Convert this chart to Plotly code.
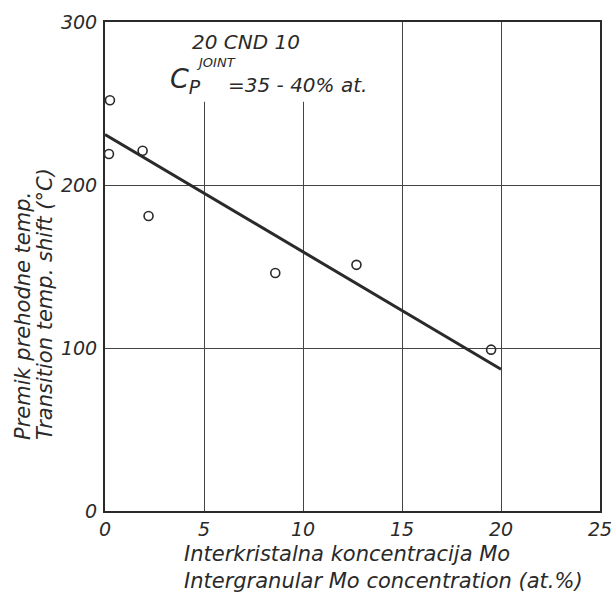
import plotly.graph_objects as go

# Data
mo_conc = [0.25, 0.2, 1.9, 2.2, 8.6, 12.7, 19.5]
temp_shift = [252, 219, 221, 181, 146, 151, 99]
fit_x = [0, 20]
fit_y = [231, 87]
x_ticks = [0, 5, 10, 15, 20, 25]
y_ticks = [0, 100, 200, 300]

FONT = "DejaVu Sans"
INK = "#2a2a2a"
W, H = 611, 596
ML, MR, MT, MB = 105, 11, 22, 85

fig = go.Figure()
fig.add_trace(go.Scatter(
    x=fit_x, y=fit_y, mode="lines",
    line=dict(color=INK, width=3), showlegend=False))
fig.add_trace(go.Scatter(
    x=mo_conc, y=temp_shift, mode="markers",
    marker=dict(symbol="circle-open", size=9, color=INK, line=dict(width=1.6)),
    showlegend=False))

# blank area behind the annotation (gridlines at 5 and 10 stop below it)
fig.add_shape(type="rect", xref="x", yref="y", x0=4, x1=12, y0=251, y1=300,
              fillcolor="white", line=dict(width=0), layer="between")

axis_common = dict(
    showline=True, mirror=True, linecolor=INK, linewidth=2,
    showgrid=True, gridcolor="#444444", gridwidth=1,
    zeroline=False, ticks="", automargin=False, ticklabeloverflow="allow",
    tickfont=dict(family=FONT, size=19, color=INK, style="italic"),
)
fig.update_xaxes(range=[0, 25], tickvals=x_ticks, **axis_common)
fig.update_yaxes(range=[0, 300], tickvals=y_ticks, ticklabelstandoff=2, **axis_common)

ann_font = dict(family=FONT, color=INK, style="italic")
# positions given in page pixels
annotations = [
    dict(text="20 CND 10", x=190, y=42, font=dict(size=20, **ann_font), xanchor="left"),
    dict(text="C<sub>P</sub>", x=168, y=80, font=dict(size=27, **ann_font), xanchor="left"),
    dict(text="JOINT", x=194, y=62, font=dict(size=13, **ann_font), xanchor="left"),
    dict(text="=35 - 40% at.", x=226, y=85, font=dict(size=20, **ann_font), xanchor="left"),
    dict(text="Interkristalna koncentracija Mo", x=182, y=554,
         font=dict(size=21, **ann_font), xanchor="left"),
    dict(text="Intergranular Mo concentration (at.%)", x=182, y=581,
         font=dict(size=21, **ann_font), xanchor="left"),
    dict(text="Premik prehodne temp.", x=23, y=442, textangle=-90,
         yanchor="bottom", font=dict(size=21, **ann_font), xanchor="center"),
    dict(text="Transition temp. shift (°C)", x=45, y=442, textangle=-90,
         yanchor="bottom", font=dict(size=21, **ann_font), xanchor="center"),
]
for a in annotations:
    a["xref"] = "paper"
    a["yref"] = "paper"
    # convert page-pixel positions to paper coordinates
    a["x"] = (a["x"] - ML) / (W - ML - MR)
    a["y"] = 1 - (a["y"] - MT) / (H - MT - MB)
    a.setdefault("yanchor", "middle")
    a["showarrow"] = False
fig.update_layout(
    width=W, height=H,
    margin=dict(l=ML, r=MR, t=MT, b=MB),
    plot_bgcolor="white", paper_bgcolor="white",
    annotations=annotations,
)
fig.write_html(
    "out.html",
    config={"displayModeBar": False},
    post_script="document.body.style.margin='0';document.body.style.overflow='hidden';",
)
